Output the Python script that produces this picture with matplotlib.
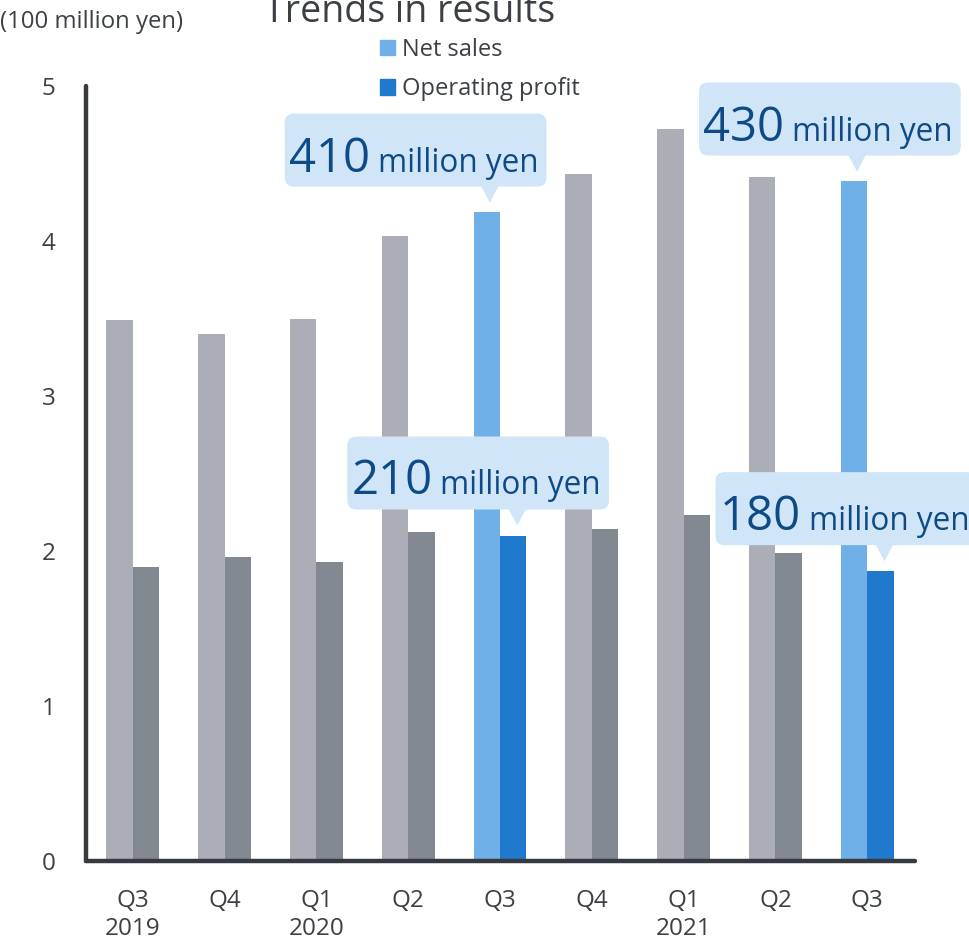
import matplotlib
matplotlib.use("Agg")
import matplotlib.pyplot as plt
import matplotlib.transforms as mtransforms
from matplotlib.patches import FancyBboxPatch, Polygon, Rectangle

plt.rcParams['font.family'] = ['Open Sans', 'DejaVu Sans']

quarters = ["Q3\n2019", "Q4", "Q1\n2020", "Q2", "Q3", "Q4", "Q1\n2021", "Q2", "Q3"]
net_sales = [3.49, 3.40, 3.50, 4.03, 4.19, 4.43, 4.72, 4.41, 4.39]
op_profit = [1.90, 1.96, 1.93, 2.12, 2.10, 2.14, 2.23, 1.99, 1.87]
highlight = [4, 8]
y_ticks = [0, 1, 2, 3, 4, 5]
callouts = [  # (bar index, series, number, unit)
    (4, "net", "410", "million yen"),
    (8, "net", "430", "million yen"),
    (4, "op", "210", "million yen"),
    (8, "op", "180", "million yen"),
]

GREY_L = "#abaeb6"
GREY_D = "#82888f"
BLUE_L = "#70b0e8"
BLUE_D = "#1f79cc"
BOX = "#d0e5f7"
BOX_TXT = "#0d4a86"
AX_C = "#363a40"
TXT = "#3c4046"

W, H = 970, 941
fig = plt.figure(figsize=(W / 100, H / 100), dpi=100)
ax = fig.add_axes([86 / W, 80 / H, (915 - 86) / W, (861 - 86) / H])

bw = 0.288
x = list(range(len(quarters)))
c_net = [BLUE_L if i in highlight else GREY_L for i in x]
c_op = [BLUE_D if i in highlight else GREY_D for i in x]
ax.bar([i - bw / 2 for i in x], net_sales, width=bw, color=c_net, zorder=2)
ax.bar([i + bw / 2 for i in x], op_profit, width=bw, color=c_op, zorder=2)

ax.set_xlim(-0.51, 8.52)
ax.set_ylim(0, 5)
ax.set_yticks(y_ticks)
ax.set_yticklabels([str(v) for v in y_ticks])
ax.set_xticks(x)
ax.set_xticklabels(quarters, linespacing=1.25)
ax.tick_params(axis='y', length=0, pad=22, labelsize=17.5, labelcolor=TXT)
ax.tick_params(axis='x', length=0, pad=20, labelsize=17.5, labelcolor=TXT)
for s in ['top', 'right']:
    ax.spines[s].set_visible(False)
for s in ['left', 'bottom']:
    ax.spines[s].set_linewidth(3.2)
    ax.spines[s].set_color(AX_C)
    ax.spines[s].set_capstyle('round')
    ax.spines[s].set_zorder(3)

fig.text(410 / W, 1 - 22 / H, "Trends in results", ha='center', va='baseline',
         fontsize=27, color=TXT)
fig.text(0, 1 - 22 / H, "(100 million yen)", ha='left', va='center',
         fontsize=17.2, color=TXT)

handles = [Rectangle((0, 0), 1, 1, color=BLUE_L), Rectangle((0, 0), 1, 1, color=BLUE_D)]
fig.legend(handles, ["Net sales", "Operating profit"], loc='upper left',
           bbox_to_anchor=(380 / W, 1 - 38 / H), frameon=False, fontsize=17,
           handlelength=0.62, handleheight=0.62, handletextpad=0.3,
           labelspacing=0.65, labelcolor=TXT, borderpad=0, borderaxespad=0)

# callouts
fig.canvas.draw()
r = fig.canvas.get_renderer()
ident = mtransforms.IdentityTransform()
tip_gap = {"net": 9, "op": 10}
for idx, ser, num, unit in callouts:
    if ser == "net":
        bx, by = idx - bw / 2, net_sales[idx]
        dx = 3
    else:
        bx, by = idx + bw / 2, op_profit[idx]
        dx = 4
    px, py = ax.transData.transform((bx, by))
    tipx, tipy = px + dx, py + tip_gap[ser]
    bottom = tipy + 16
    top = bottom + 73
    t1 = fig.text(0, 0, num, fontsize=34, color=BOX_TXT, transform=ident,
                  ha='left', va='baseline', zorder=5)
    t2 = fig.text(0, 0, unit, fontsize=22.7, color=BOX_TXT, transform=ident,
                  ha='left', va='baseline', zorder=5)
    w1 = t1.get_window_extent(r).width
    w2 = t2.get_window_extent(r).width
    gap = 8
    tw = w1 + gap + w2
    if ser == "net" and idx == 4:
        left = tipx - 205
    elif ser == "net":
        left = tipx - 158
    elif idx == 4:
        left = tipx - 170
    else:
        left = tipx - 169
    bwid = tw + 12
    box = FancyBboxPatch((left, bottom), bwid, top - bottom,
                         boxstyle="round,pad=0,rounding_size=9",
                         transform=ident, facecolor=BOX, edgecolor='none', zorder=4)
    fig.patches.append(box)
    tri = Polygon([(tipx - 9, bottom + 1), (tipx + 9, bottom + 1), (tipx, tipy)],
                  closed=True, transform=ident, facecolor=BOX, edgecolor='none', zorder=4)
    fig.patches.append(tri)
    tx = left + 4
    t1.set_position((tx, bottom + 15))
    t2.set_position((tx + w1 + gap, bottom + 15))

fig.savefig("out.png", dpi=100)
